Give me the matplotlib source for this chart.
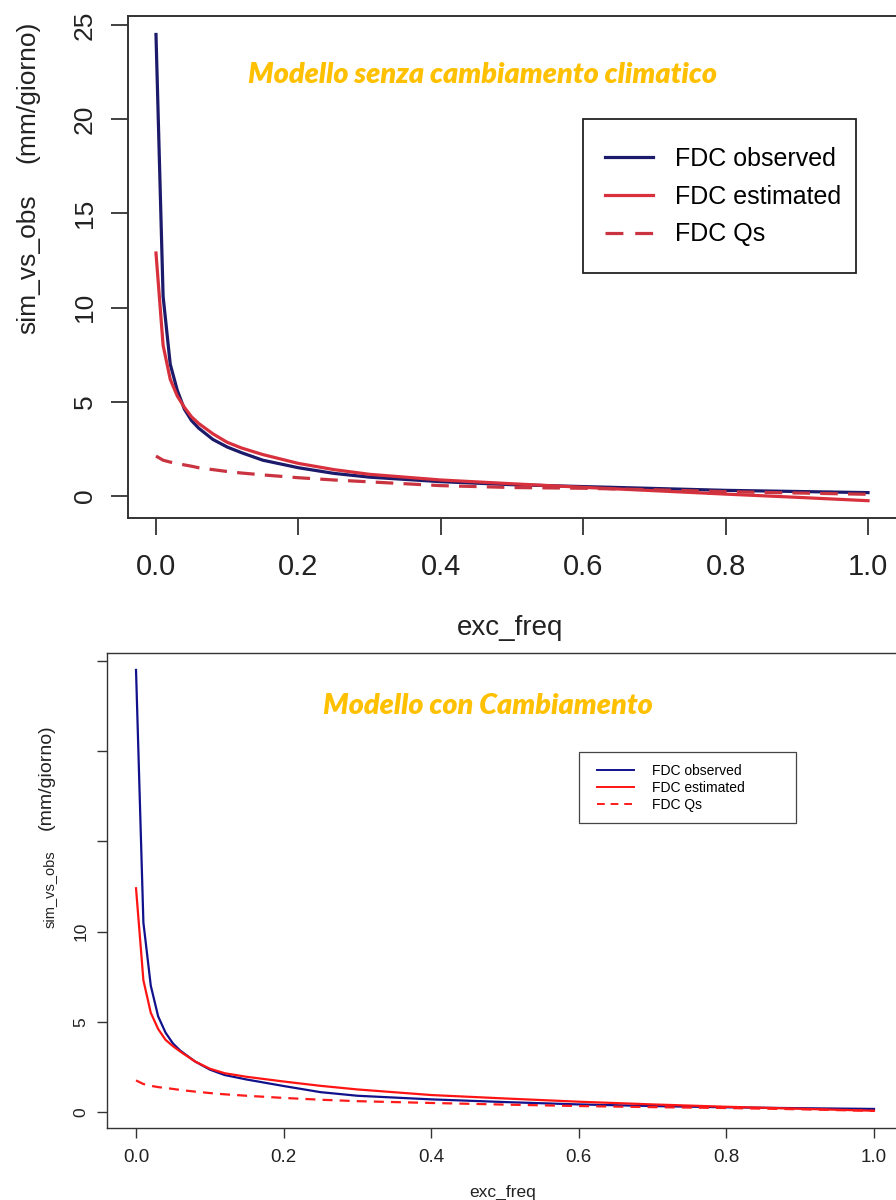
import matplotlib
matplotlib.use('Agg')
import matplotlib.pyplot as plt
from matplotlib.patches import Rectangle
from matplotlib.lines import Line2D

# ---------------- data ----------------
exc_freq = [0.00, 0.01, 0.02, 0.03, 0.04, 0.05, 0.06, 0.08, 0.10, 0.12, 0.15,
            0.20, 0.25, 0.30, 0.40, 0.50, 0.60, 0.70, 0.80, 0.90, 1.00]

# Top panel: "Modello senza cambiamento climatico"
top_observed  = [24.5, 10.6, 7.0, 5.6, 4.6, 4.0, 3.6, 3.0, 2.6, 2.3, 1.9,
                 1.5, 1.2, 1.0, 0.76, 0.6, 0.5, 0.4, 0.3, 0.24, 0.18]
top_estimated = [12.9, 8.0, 6.2, 5.3, 4.7, 4.2, 3.85, 3.3, 2.85, 2.55, 2.2,
                 1.73, 1.4, 1.15, 0.85, 0.65, 0.46, 0.28, 0.1, -0.07, -0.25]
top_qs        = [2.12, 1.9, 1.8, 1.72, 1.65, 1.58, 1.5, 1.4, 1.3, 1.22, 1.12,
                 0.97, 0.85, 0.75, 0.55, 0.45, 0.41, 0.33, 0.23, 0.16, 0.09]

# Bottom panel: "Modello con Cambiamento"
bot_observed  = [24.5, 10.5, 7.0, 5.3, 4.4, 3.8, 3.4, 2.8, 2.35, 2.05, 1.8,
                 1.44, 1.1, 0.9, 0.70, 0.55, 0.42, 0.33, 0.26, 0.21, 0.17]
bot_estimated = [12.4, 7.3, 5.5, 4.6, 4.0, 3.65, 3.35, 2.8, 2.4, 2.15, 1.95,
                 1.69, 1.45, 1.25, 0.94, 0.75, 0.57, 0.42, 0.29, 0.18, 0.07]
bot_qs        = [1.75, 1.55, 1.45, 1.38, 1.33, 1.28, 1.22, 1.13, 1.05, 0.98, 0.9,
                 0.78, 0.68, 0.6, 0.5, 0.41, 0.33, 0.27, 0.22, 0.15, 0.06]

x_ticks = [0.0, 0.2, 0.4, 0.6, 0.8, 1.0]
x_tick_labels = ["0.0", "0.2", "0.4", "0.6", "0.8", "1.0"]
y_ticks = [0, 5, 10, 15, 20, 25]
top_y_tick_labels = ["0", "5", "10", "15", "20", "25"]
bot_y_tick_labels = ["0", "5", "10", "", "", ""]

legend_labels = ["FDC observed", "FDC estimated", "FDC Qs"]
title_top = "Modello senza cambiamento climatico"
title_bot = "Modello con Cambiamento"
xlabel = "exc_freq"
ylabel_a = "sim_vs_obs"
ylabel_b = "(mm/giorno)"

# ---------------- layout helpers ----------------
W, H = 896, 1200
fig = plt.figure(figsize=(W / 100, H / 100), dpi=100)
fig.patch.set_facecolor('white')

def fx(px):
    return px / W

def fy(py):
    return 1 - py / H

NARROW = ['Liberation Sans Narrow', 'Liberation Sans', 'DejaVu Sans']
SANS = ['Liberation Sans', 'DejaVu Sans']
TITLE = ['Lato', 'Open Sans', 'DejaVu Sans']
GOLD = '#FFC000'


def setup_axes(ax, ylabels, tick_len, tick_w, xfs, yfs, xpad, ypad, spine_w, spine_c):
    ax.set_xlim(-0.04, 1.04)
    for s in ax.spines.values():
        s.set_linewidth(spine_w)
        s.set_color(spine_c)
    ax.set_xticks(x_ticks)
    ax.set_xticklabels(x_tick_labels, family=NARROW, fontsize=xfs)
    ax.set_yticks(y_ticks)
    ax.set_yticklabels(ylabels, family=NARROW, fontsize=yfs, rotation=90, va='center')
    ax.tick_params(axis='x', direction='out', length=tick_len, width=tick_w, pad=xpad,
                   color=spine_c, labelcolor='#222222')
    ax.tick_params(axis='y', direction='out', length=tick_len, width=tick_w, pad=ypad,
                   color=spine_c, labelcolor='#222222')


def fit_text(x, y, s, target_w, **kw):
    t = fig.text(x, y, s, **kw)
    fig.canvas.draw()
    w = t.get_window_extent().width
    t.set_fontsize(t.get_fontsize() * target_w / w)
    return t

# ---------------- top panel ----------------
ax1 = fig.add_axes([fx(127.5), fy(518), (896.5 - 127.5) / W, (518 - 16) / H])
ax1.set_ylim(-1.168, 25.48)
setup_axes(ax1, top_y_tick_labels, 12, 1.3, 21, 19, 13, 10, 1.4, '#333333')

c_obs1, c_est1, c_qs1 = '#1c1a6a', '#d8303c', '#c93440'
ax1.plot(exc_freq, top_observed, color=c_obs1, lw=2.3, solid_joinstyle='round')
ax1.plot(exc_freq, top_estimated, color=c_est1, lw=2.3, solid_joinstyle='round')
ax1.plot(exc_freq, top_qs, color=c_qs1, lw=2.3, dashes=(5.5, 3.2))

h1 = [Line2D([], [], color=c_obs1, lw=2.3),
      Line2D([], [], color=c_est1, lw=2.3),
      Line2D([], [], color=c_qs1, lw=2.3, dashes=(5.6, 3.7))]
fig.legend(h1, legend_labels, loc='center left',
           bbox_to_anchor=(fx(605), fy(196.5)), bbox_transform=fig.transFigure,
           frameon=False, prop={'family': SANS, 'size': 18},
           handlelength=1.92, handletextpad=0.88, labelspacing=0.56, borderpad=0,
           borderaxespad=0)
fig.add_artist(Rectangle((fx(583), fy(273)), (856 - 583) / W, (273 - 119) / H,
                         transform=fig.transFigure, fill=False, lw=1.3,
                         edgecolor='#222222'))

fit_text(fx(482.5), fy(75), title_top, 469, family=TITLE, fontsize=24,
         fontweight='heavy', style='italic', color=GOLD, ha='center', va='center')

fig.text(fx(28), fy(264), ylabel_a, family=SANS, fontsize=19, rotation=90,
         ha='center', va='center', color='#222222')
fig.text(fx(27), fy(92), ylabel_b, family=SANS, fontsize=19, rotation=90,
         ha='center', va='center', color='#222222')
fig.text(fx(510), fy(628), xlabel, family=NARROW, fontsize=20,
         ha='center', va='center', color='#222222')

# ---------------- bottom panel ----------------
ax2 = fig.add_axes([fx(106.5), fy(1128), (903.5 - 106.5) / W, (1128 - 653) / H])
ax2.set_ylim(-0.887, 25.44)
setup_axes(ax2, bot_y_tick_labels, 7, 1.0, 13.5, 12.5, 8, 6, 1.0, '#333333')

c_obs2, c_est2, c_qs2 = '#11118c', '#ff1414', '#ff1a1a'
ax2.plot(exc_freq, bot_observed, color=c_obs2, lw=1.6)
ax2.plot(exc_freq, bot_estimated, color=c_est2, lw=1.6)
ax2.plot(exc_freq, bot_qs, color=c_qs2, lw=1.6, dashes=(4.5, 3.2))

h2 = [Line2D([], [], color=c_obs2, lw=1.4),
      Line2D([], [], color=c_est2, lw=1.4),
      Line2D([], [], color=c_qs2, lw=1.4, dashes=(4, 3))]
fig.legend(h2, legend_labels, loc='center left',
           bbox_to_anchor=(fx(597), fy(788)), bbox_transform=fig.transFigure,
           frameon=False, prop={'family': SANS, 'size': 10},
           handlelength=2.66, handletextpad=1.3, labelspacing=0.2, borderpad=0,
           borderaxespad=0)
fig.add_artist(Rectangle((fx(579), fy(823)), (796 - 579) / W, (823 - 752) / H,
                         transform=fig.transFigure, fill=False, lw=0.9,
                         edgecolor='#444444'))

fit_text(fx(487.5), fy(706), title_bot, 329, family=TITLE, fontsize=20,
         fontweight='heavy', style='italic', color=GOLD, ha='center', va='center')

fig.text(fx(50), fy(889), ylabel_a, family=SANS, fontsize=10.5, rotation=90,
         ha='center', va='center', color='#222222')
fig.text(fx(46), fy(777), ylabel_b, family=SANS, fontsize=14, rotation=90,
         ha='center', va='center', color='#222222')
fig.text(fx(503), fy(1192), xlabel, family=NARROW, fontsize=12.5,
         ha='center', va='center', color='#222222')

fig.savefig('out.png', dpi=100, facecolor='white')
